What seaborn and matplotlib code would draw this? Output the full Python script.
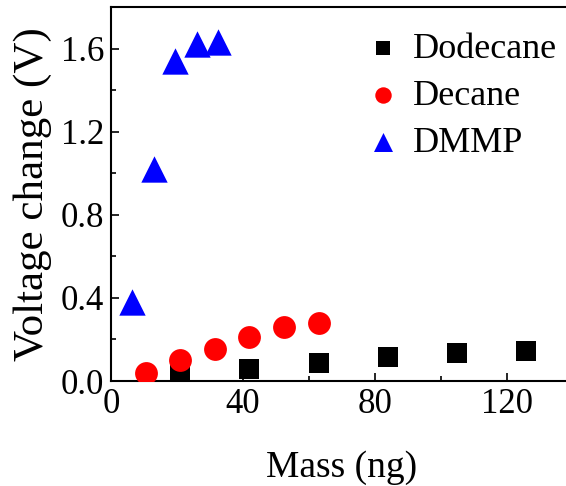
import matplotlib
matplotlib.use("Agg")
import matplotlib.pyplot as plt
from matplotlib.ticker import MultipleLocator, FormatStrFormatter
import seaborn as sns
import pandas as pd

# Sensor response vs. analyte mass
dodecane_mass = [21, 42, 63, 84, 105, 126]
dodecane_volt = [0.045, 0.06, 0.088, 0.117, 0.133, 0.145]

decane_mass = [10.5, 21, 31.5, 42, 52.5, 63]
decane_volt = [0.04, 0.10, 0.155, 0.21, 0.26, 0.28]

dmmp_mass = [6.5, 13, 19.5, 26, 32.5]
dmmp_volt = [0.38, 1.02, 1.54, 1.62, 1.63]

names = ["Dodecane", "Decane", "DMMP"]

df = pd.concat([
    pd.DataFrame({"Mass": dodecane_mass, "Voltage": dodecane_volt, "Analyte": names[0]}),
    pd.DataFrame({"Mass": decane_mass, "Voltage": decane_volt, "Analyte": names[1]}),
    pd.DataFrame({"Mass": dmmp_mass, "Voltage": dmmp_volt, "Analyte": names[2]}),
], ignore_index=True)

sns.set_style("ticks")
plt.rcParams["font.family"] = ["Liberation Serif", "DejaVu Serif"]
plt.rcParams["text.color"] = "black"
plt.rcParams["axes.labelcolor"] = "black"
plt.rcParams["xtick.color"] = "black"
plt.rcParams["ytick.color"] = "black"
plt.rcParams["axes.edgecolor"] = "black"

fig = plt.figure(figsize=(5.66, 4.86), dpi=100)
ax = fig.add_axes([0.196, 0.216, 0.8155, 0.7695])

palette = {"Dodecane": "black", "Decane": "red", "DMMP": "blue"}
markers = {"Dodecane": "s", "Decane": "o", "DMMP": "^"}
sizes = {"Dodecane": 200, "Decane": 270, "DMMP": 360}

for name in names:
    sub = df[df["Analyte"] == name]
    sns.scatterplot(data=sub, x="Mass", y="Voltage", ax=ax, color=palette[name],
                    marker=markers[name], s=sizes[name], linewidth=0,
                    label=name, zorder=3)

ax.set_xlim(0, 140)
ax.set_ylim(0, 1.8)
ax.xaxis.set_major_locator(MultipleLocator(40))
ax.xaxis.set_minor_locator(MultipleLocator(20))
ax.yaxis.set_major_locator(MultipleLocator(0.4))
ax.yaxis.set_minor_locator(MultipleLocator(0.2))
ax.yaxis.set_major_formatter(FormatStrFormatter("%.1f"))

for sp in ax.spines.values():
    sp.set_linewidth(1.5)
    sp.set_visible(True)
    sp.set_color("black")

ax.tick_params(which="both", direction="in", width=1.2, labelsize=25,
               top=False, right=False, colors="black")
ax.tick_params(which="major", length=6, pad=5)
ax.tick_params(which="minor", length=3.5)

ax.set_xlabel("Mass (ng)", fontsize=27, labelpad=21)
ax.set_ylabel("Voltage change (V)", fontsize=31, labelpad=6)

leg = ax.legend(loc="upper left", bbox_to_anchor=(0.487, 0.99), frameon=False,
                fontsize=26, handlelength=1.4, handletextpad=0.13,
                labelspacing=0.38, borderaxespad=0.2, markerscale=0.72)

fig.savefig("out.png", dpi=100)
